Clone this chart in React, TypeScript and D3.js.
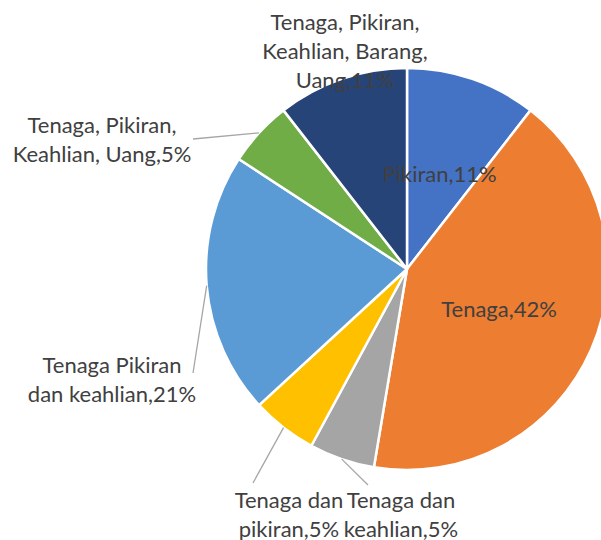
import React, { useEffect, useRef } from "react";
import * as d3 from "d3";

// slice data (respondent counts, shown as percentages)
const categories = [
  "Pikiran",
  "Tenaga",
  "Tenaga dan keahlian",
  "Tenaga dan pikiran",
  "Tenaga Pikiran dan keahlian",
  "Tenaga, Pikiran, Keahlian, Uang",
  "Tenaga, Pikiran, Keahlian, Barang, Uang",
];
const counts = [2, 8, 1, 1, 4, 1, 2];
const colors = ["#4472C4", "#ED7D31", "#A5A5A5", "#FFC000", "#5B9BD5", "#70AD47", "#264478"];

// how each label is wrapped (as in the picture)
const labelLines = [
  ["Pikiran,11%"],
  ["Tenaga,42%"],
  ["Tenaga dan", "keahlian,5%"],
  ["Tenaga dan", "pikiran,5%"],
  ["Tenaga Pikiran", "dan keahlian,21%"],
  ["Tenaga, Pikiran,", "Keahlian, Uang,5%"],
  ["Tenaga, Pikiran,", "Keahlian, Barang,", "Uang,11%"],
];

const W = 601;
const H = 540;
const cx = 407;
const cy = 269;
const R = 201;
const lineH = 29;

// outside label placement: text centre of first line, and leader end point
const outside: Record<number, { x: number; y: number; lead?: [number, number] }> = {
  2: { x: 401, y: 500, lead: [368, 485] },
  3: { x: 289, y: 500, lead: [253, 483] },
  4: { x: 112, y: 365, lead: [193, 373] },
  5: { x: 102, y: 125, lead: [193, 139] },
  6: { x: 345, y: 22 },
};

export default function App() {
  const ref = useRef<SVGSVGElement>(null);

  useEffect(() => {
    document.body.style.margin = "0";
    const svg = d3.select(ref.current);
    svg.selectAll("*").remove();

    const total = d3.sum(counts);
    const pie = d3.pie<number>().sort(null).value((d) => d);
    const arcs = pie(counts);
    const arc = d3.arc<d3.PieArcDatum<number>>().innerRadius(0).outerRadius(R);

    const g = svg.append("g").attr("transform", `translate(${cx},${cy})`);

    g.selectAll("path")
      .data(arcs)
      .enter()
      .append("path")
      .attr("d", arc)
      .attr("fill", (d, i) => colors[i])
      .attr("stroke", "#fff")
      .attr("stroke-width", 2.5)
      .attr("stroke-linejoin", "round");

    // leader lines
    arcs.forEach((a, i) => {
      const o = outside[i];
      if (!o || !o.lead) return;
      const mid = (a.startAngle + a.endAngle) / 2;
      const x1 = cx + R * Math.sin(mid);
      const y1 = cy - R * Math.cos(mid);
      svg
        .append("line")
        .attr("x1", x1)
        .attr("y1", y1)
        .attr("x2", o.lead[0])
        .attr("y2", o.lead[1])
        .attr("stroke", "#A6A6A6")
        .attr("stroke-width", 1.3);
    });

    const font = "Lato, 'Open Sans', sans-serif";
    arcs.forEach((a, i) => {
      const pct = Math.round((counts[i] / total) * 100);
      const lines = labelLines[i];
      let x: number, y: number;
      if (outside[i]) {
        x = outside[i].x;
        y = outside[i].y;
      } else {
        const c = arc.centroid(a);
        x = cx + c[0];
        y = cy + c[1];
      }
      const t = svg
        .append("text")
        .attr("text-anchor", "middle")
        .attr("font-family", font)
        .attr("font-size", 22)
        .attr("fill", "#404040")
        .attr("data-pct", pct);
      lines.forEach((ln, k) => {
        t.append("tspan")
          .attr("x", x)
          .attr("y", y + k * lineH)
          .attr("dy", "0.35em")
          .text(ln);
      });
    });
  }, []);

  return <svg ref={ref} width={W} height={H} style={{ display: "block" }} />;
}
